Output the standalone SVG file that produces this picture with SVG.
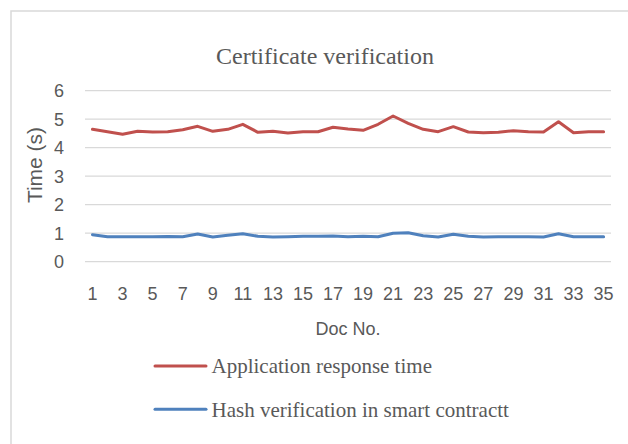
<svg xmlns="http://www.w3.org/2000/svg" width="628" height="444" viewBox="0 0 628 444">
  <style>
    .frame { fill: #ffffff; stroke: #d9d9d9; stroke-width: 1.5; }
    .grid { stroke: #d9d9d9; stroke-width: 1.2; fill: none; }
    .tick { font-family: "Liberation Sans", Arial, sans-serif; font-size: 18px; fill: #595959; }
    .axis-title { font-family: "Liberation Sans", Arial, sans-serif; fill: #595959; }
    .serif { font-family: "Liberation Serif", "Times New Roman", serif; fill: #595959; }
    .series { fill: none; stroke-width: 3; stroke-linejoin: round; stroke-linecap: round; }
    .red { stroke: #c0504d; }
    .blue { stroke: #4f81bd; }
  </style>

  <!-- chart frame -->
  <rect class="frame" x="11" y="11" width="640" height="450"/>

  <!-- title -->
  <text class="serif" x="325" y="64" font-size="24" text-anchor="middle">Certificate verification</text>

  <!-- horizontal gridlines, values 0..6 -->
  <g id="gridlines">
    <line class="grid" x1="85" y1="90.7" x2="611" y2="90.7"/>
    <line class="grid" x1="85" y1="119.2" x2="611" y2="119.2"/>
    <line class="grid" x1="85" y1="147.7" x2="611" y2="147.7"/>
    <line class="grid" x1="85" y1="176.2" x2="611" y2="176.2"/>
    <line class="grid" x1="85" y1="204.7" x2="611" y2="204.7"/>
    <line class="grid" x1="85" y1="233.2" x2="611" y2="233.2"/>
    <line class="grid" x1="85" y1="261.7" x2="611" y2="261.7"/>
  </g>

  <!-- y-axis tick labels -->
  <g id="y-axis" text-anchor="end">
    <text class="tick" x="64" y="97">6</text>
    <text class="tick" x="64" y="125.5">5</text>
    <text class="tick" x="64" y="154">4</text>
    <text class="tick" x="64" y="182.5">3</text>
    <text class="tick" x="64" y="211">2</text>
    <text class="tick" x="64" y="239.5">1</text>
    <text class="tick" x="64" y="268">0</text>
  </g>
  <text class="axis-title" font-size="21" text-anchor="middle" transform="translate(41.5 165) rotate(-90)">Time (s)</text>

  <!-- x-axis tick labels (odd documents) -->
  <g id="x-axis" text-anchor="middle">
    <text class="tick" x="92.5" y="300">1</text>
    <text class="tick" x="122.6" y="300">3</text>
    <text class="tick" x="152.6" y="300">5</text>
    <text class="tick" x="182.7" y="300">7</text>
    <text class="tick" x="212.8" y="300">9</text>
    <text class="tick" x="242.8" y="300">11</text>
    <text class="tick" x="272.9" y="300">13</text>
    <text class="tick" x="303" y="300">15</text>
    <text class="tick" x="333" y="300">17</text>
    <text class="tick" x="363.1" y="300">19</text>
    <text class="tick" x="393.1" y="300">21</text>
    <text class="tick" x="423.2" y="300">23</text>
    <text class="tick" x="453.3" y="300">25</text>
    <text class="tick" x="483.3" y="300">27</text>
    <text class="tick" x="513.4" y="300">29</text>
    <text class="tick" x="543.5" y="300">31</text>
    <text class="tick" x="573.5" y="300">33</text>
    <text class="tick" x="603.6" y="300">35</text>
  </g>
  <text class="axis-title" x="348" y="335" font-size="18" text-anchor="middle">Doc No.</text>

  <!-- data series -->
  <g id="series">
    <polyline id="app-response" class="series red" points="92.5,129.3 107.5,131.7 122.6,134.3 137.6,131.3 152.6,132 167.7,131.7 182.7,129.7 197.7,126.3 212.8,131.3 227.8,129.3 242.8,124.3 257.9,132.3 272.9,131.3 287.9,133 303,131.7 318,131.7 333,127.3 348,129 363.1,130.3 378.1,124.3 393.1,116 408.2,123.3 423.2,129.3 438.2,131.7 453.3,126.7 468.3,132 483.3,132.7 498.4,132.3 513.4,130.7 528.4,131.7 543.5,132 558.5,121.7 573.5,132.7 588.6,131.7 603.6,131.7"/>
    <polyline id="hash-verify" class="series blue" points="92.5,234.7 107.5,236.7 122.6,236.7 137.6,236.7 152.6,236.7 167.7,236.4 182.7,236.7 197.7,234 212.8,237 227.8,235.3 242.8,233.7 257.9,236.3 272.9,237 287.9,236.7 303,236.3 318,236.3 333,236 348,236.7 363.1,236.3 378.1,236.7 393.1,233.3 408.2,232.7 423.2,235.7 438.2,237 453.3,234.3 468.3,236.3 483.3,237 498.4,236.7 513.4,236.7 528.4,236.7 543.5,237 558.5,233.7 573.5,236.7 588.6,236.7 603.6,236.7"/>
  </g>

  <!-- legend -->
  <g id="legend">
    <g id="legend-app">
      <line class="series red" x1="155" y1="366" x2="206" y2="366"/>
      <text class="serif" x="211.5" y="373" font-size="21">Application response time</text>
    </g>
    <g id="legend-hash">
      <line class="series blue" x1="155" y1="409.3" x2="206" y2="409.3"/>
      <text class="serif" x="211.5" y="416.5" font-size="21">Hash verification in smart contractt</text>
    </g>
  </g>
</svg>
